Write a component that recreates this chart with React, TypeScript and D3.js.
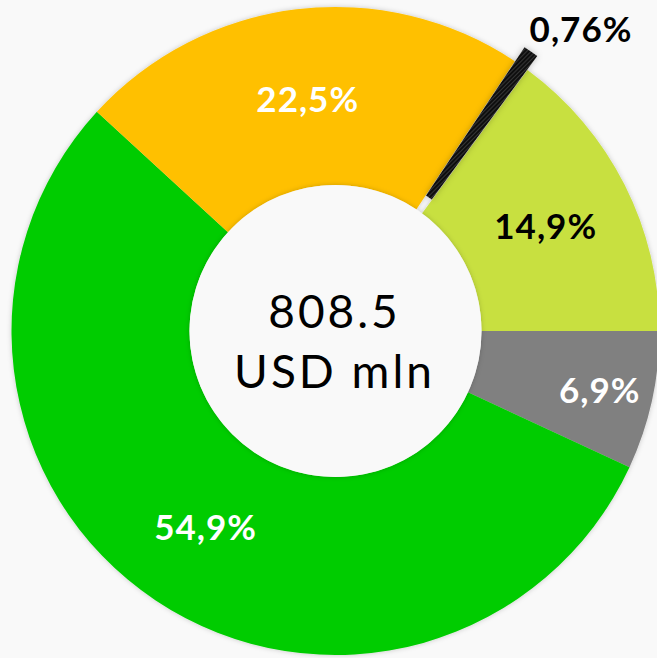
import React from "react";
import * as d3 from "d3";

const categories = ["Grey", "Green", "Yellow", "Black", "Lime"];
const values = [6.9, 54.9, 22.5, 0.76, 14.9];
const labels = ["6,9%", "54,9%", "22,5%", "0,76%", "14,9%"];
const colors = ["#808080", "#00CC00", "#FFC000", "#1a1a1a", "#C8E040"];
const labelColors = ["#ffffff", "#ffffff", "#ffffff", "#000000", "#000000"];
const totalLabel = ["808.5", "USD mln"];

const W = 657;
const H = 658;
const cx = 335.5;
const cy = 331;
const R = 324;
const r0 = 146;

export default function App() {
  const pie = d3
    .pie<number>()
    .sort(null)
    .value((d) => d)
    .startAngle(Math.PI / 2)
    .endAngle(Math.PI / 2 + 2 * Math.PI);
  const arcs = pie(values);
  const arc = d3.arc<d3.PieArcDatum<number>>().innerRadius(r0).outerRadius(R);
  const explodeIdx = 3;

  const labelStyle = {
    fontFamily: "Lato, sans-serif",
    fontWeight: 700,
    fontSize: 35,
    letterSpacing: 1,
  } as const;

  return (
    <svg
      width={W}
      height={H}
      style={{ position: "absolute", left: 0, top: 0, background: "#f9f9f9" }}
    >
      <defs>
        <filter id="sh" x="-20%" y="-20%" width="140%" height="140%">
          <feDropShadow dx="0" dy="0" stdDeviation="3" floodColor="#000" floodOpacity="0.25" />
        </filter>
        <filter id="sh2" x="-20%" y="-20%" width="140%" height="140%">
          <feDropShadow dx="0" dy="0" stdDeviation="2.5" floodColor="#000" floodOpacity="0.2" />
        </filter>
        <pattern id="hatch" width="3" height="3" patternUnits="userSpaceOnUse" patternTransform="rotate(45)">
          <rect width="3" height="3" fill="#111" />
          <line x1="0" y1="0" x2="0" y2="3" stroke="#555" strokeWidth="1" />
        </pattern>
      </defs>
      <rect width={W} height={H} fill="#f9f9f9" />
      <g transform={`translate(${cx},${cy})`}>
        <g filter="url(#sh2)">
          {arcs.map((a, i) =>
            i === explodeIdx ? null : (
              <path key={categories[i]} d={arc(a) || ""} fill={colors[i]} />
            )
          )}
        </g>
        {arcs.map((a, i) => {
          if (i !== explodeIdx) return null;
          const mid = (a.startAngle + a.endAngle) / 2;
          const off = 17;
          const dx = off * Math.sin(mid);
          const dy = -off * Math.cos(mid);
          return (
            <path
              key={categories[i]}
              d={arc(a) || ""}
              transform={`translate(${dx},${dy})`}
              fill="url(#hatch)"
              filter="url(#sh)"
            />
          );
        })}
        <circle r={r0} fill="#f9f9f9" filter="url(#sh2)" />
        {arcs.map((a, i) => {
          const mid = (a.startAngle + a.endAngle) / 2;
          let lr = (r0 + R) / 2;
          let x: number;
          let y: number;
          if (i === explodeIdx) {
            x = 245;
            y = -303;
          } else {
            if (values[i] < 10) lr = 270;
            x = lr * Math.sin(mid);
            y = -lr * Math.cos(mid);
          }
          return (
            <text
              key={"l" + i}
              x={x + 0.5}
              y={y}
              textAnchor="middle"
              dominantBaseline="central"
              style={labelStyle}
              fill={labelColors[i]}
            >
              {labels[i]}
            </text>
          );
        })}
        <text
          x={-1}
          y={-21}
          textAnchor="middle"
          dominantBaseline="central"
          fontFamily="Lato, sans-serif"
          fontWeight={400}
          fontSize={46}
          letterSpacing={3}
          fill="#000"
        >
          {totalLabel[0]}
        </text>
        <text
          x={-1}
          y={39}
          textAnchor="middle"
          dominantBaseline="central"
          fontFamily="Lato, sans-serif"
          fontWeight={400}
          fontSize={46}
          letterSpacing={3}
          fill="#000"
        >
          {totalLabel[1]}
        </text>
      </g>
    </svg>
  );
}
